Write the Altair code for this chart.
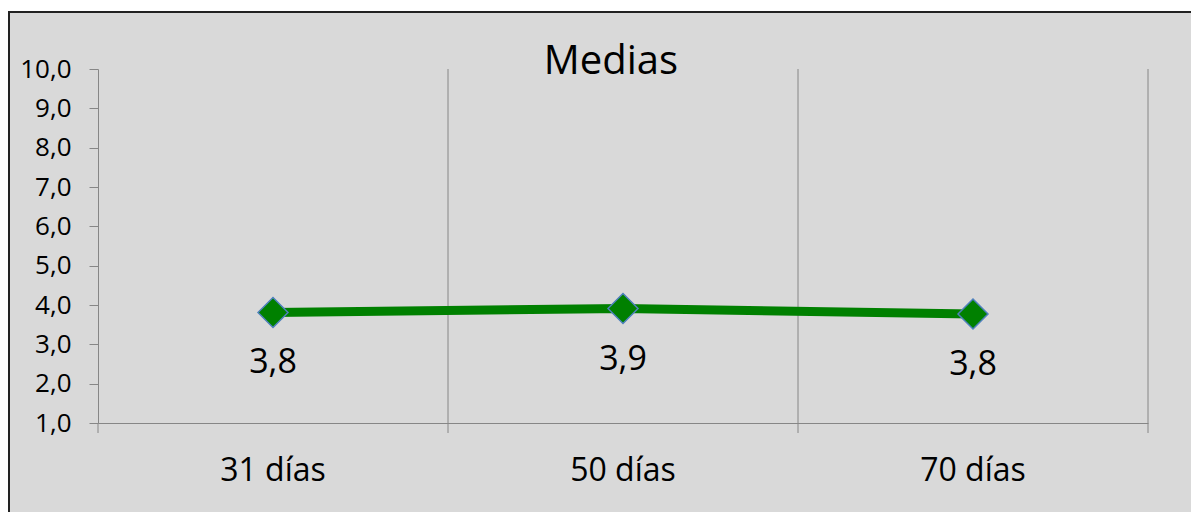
import altair as alt
import pandas as pd

categories = ["31 días", "50 días", "70 días"]
means = [3.81, 3.91, 3.77]

df = pd.DataFrame({"cat": categories, "v": means})

FONT = "Open Sans"
GRAY = "#868686"
GREEN = "#008000"

xscale = alt.Scale(type="band", paddingInner=0, paddingOuter=0, domain=categories)
yscale = alt.Scale(domain=[1, 10], nice=False, zero=False)

base = alt.Chart(df)

frame = alt.Chart(alt.Data(values=[{"f": 1}])).mark_rect(
    fill="#d9d9d9", stroke="#222222", strokeWidth=2
).encode(
    x=alt.value(-89), x2=alt.value(1115),
    y=alt.value(-57), y2=alt.value(470),
)

grid = base.mark_rule(color=GRAY, strokeWidth=1).encode(
    x=alt.X("cat:N", scale=xscale, bandPosition=1,
            axis=alt.Axis(title=None, labelFontSize=32, labelFont=FONT, labelColor="black",
                          domainColor=GRAY, domainWidth=1, ticks=False, grid=False,
                          labelPadding=47, labelBaseline="middle", labelAngle=0, zindex=1)),
    y=alt.value(0), y2=alt.value(364),
)

left_tick = base.transform_filter(alt.datum.cat == categories[0]).mark_rule(
    color=GRAY, strokeWidth=1
).encode(
    x=alt.X("cat:N", scale=xscale, bandPosition=0),
    y=alt.value(354), y2=alt.value(364),
)

yaxis = alt.Axis(title=None, values=list(range(1, 11)), tickCount=12,
                 labelExpr="replace(format(datum.value, '.1f'), '.', ',')",
                 labelFontSize=26, labelFont=FONT, labelColor="black", labelPadding=18,
                 labelOverlap=False, labelFlush=False, labelBound=False,
                 tickSize=9, tickColor=GRAY, domainColor=GRAY, domainWidth=1, grid=False,
                 zindex=1)

line = base.mark_line(color=GREEN, strokeWidth=9).encode(
    x=alt.X("cat:N", scale=xscale, bandPosition=0.5),
    y=alt.Y("v:Q", scale=yscale, axis=yaxis),
)

points = base.mark_point(
    shape="diamond", filled=True, size=900, fill=GREEN, stroke="#4f81bd",
    strokeWidth=1.5, opacity=1, fillOpacity=1, strokeOpacity=1
).encode(
    x=alt.X("cat:N", scale=xscale, bandPosition=0.5),
    y=alt.Y("v:Q", scale=yscale, axis=yaxis),
)

labels = base.transform_calculate(
    lab="replace(format(datum.v, '.1f'), '.', ',')"
).mark_text(font=FONT, fontSize=34, color="black", dy=51, baseline="middle").encode(
    x=alt.X("cat:N", scale=xscale, bandPosition=0.5),
    y=alt.Y("v:Q", scale=yscale, axis=yaxis),
    text="lab:N",
)

chart = alt.layer(frame, grid, left_tick, line, points, labels).properties(
    width=1050, height=354,
    title=alt.Title("Medias", fontSize=40, font=FONT, fontWeight="normal", color="black",
                    anchor="middle", frame="group", dx=-12, offset=-71),
    autosize=alt.AutoSizeParams(type="none"),
    padding={"left": 90, "top": 61, "right": 43, "bottom": 89},
    background="white",
).configure_view(stroke=None)

chart.save("out.html", embed_options={"renderer": "svg", "actions": False})
